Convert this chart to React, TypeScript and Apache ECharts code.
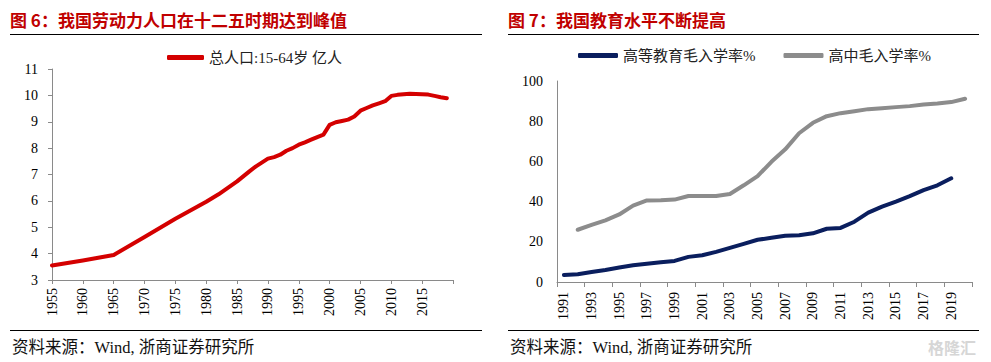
import React, { useEffect, useRef } from "react";
import * as echarts from "echarts";

// Left chart: working-age population (15-64), 100 million
const popYears = [1955, 1960, 1965, 1970, 1975, 1980, 1982, 1985, 1987, 1988, 1989, 1990, 1991, 1992, 1993, 1994, 1995, 1996, 1997, 1998, 1999, 2000, 2001, 2002, 2003, 2004, 2005, 2006, 2007, 2008, 2009, 2010, 2011, 2012, 2013, 2014, 2015, 2016, 2017, 2018, 2019];
const popValues = [3.55, 3.74, 3.95, 4.63, 5.32, 5.97, 6.25, 6.74, 7.12, 7.3, 7.45, 7.6, 7.66, 7.75, 7.9, 8.0, 8.13, 8.22, 8.32, 8.42, 8.51, 8.88, 8.98, 9.03, 9.08, 9.2, 9.42, 9.52, 9.62, 9.7, 9.78, 9.98, 10.02, 10.04, 10.06, 10.05, 10.04, 10.03, 9.98, 9.93, 9.89];
const popLegend = "总人口:15-64岁 亿人";

// Right chart: enrolment rates, %
const eduYears = ["1991", "1992", "1993", "1994", "1995", "1996", "1997", "1998", "1999", "2000", "2001", "2002", "2003", "2004", "2005", "2006", "2007", "2008", "2009", "2010", "2011", "2012", "2013", "2014", "2015", "2016", "2017", "2018", "2019", "2020"];
const higherEdu = [3.5, 3.9, 5.0, 6.0, 7.2, 8.3, 9.1, 9.8, 10.5, 12.5, 13.3, 15.0, 17.0, 19.0, 21.0, 22.0, 23.0, 23.3, 24.2, 26.5, 26.9, 30.0, 34.5, 37.5, 40.0, 42.7, 45.7, 48.1, 51.6, null];
const highSchool = [null, 26.0, 28.4, 30.7, 33.6, 38.0, 40.6, 40.7, 41.0, 42.8, 42.8, 42.8, 43.8, 48.1, 52.7, 59.8, 66.0, 74.0, 79.2, 82.5, 84.0, 85.0, 86.0, 86.5, 87.0, 87.5, 88.3, 88.8, 89.5, 91.2];
const higherName = "高等教育毛入学率%";
const highName = "高中毛入学率%";

const title1 = "图 6：我国劳动力人口在十二五时期达到峰值";
const title2 = "图 7：我国教育水平不断提高";
const source = "资料来源：Wind, 浙商证券研究所";

const SERIF = "'Liberation Serif', 'Times New Roman', 'Noto Sans CJK SC', serif";
const SANS = "'Noto Sans CJK SC', sans-serif";
const AXIS = "#8a8a8a";

export default function App() {
  const ref = useRef<HTMLDivElement>(null);
  useEffect(() => {
    if (!ref.current) return;
    const chart = echarts.init(ref.current, undefined, { renderer: "svg" });
    const rule = (x1: number, x2: number, y: number) => ({
      type: "line",
      shape: { x1, y1: y, x2, y2: y },
      style: { stroke: "#000", lineWidth: 1.2 },
      silent: true,
    });
    const txt = (x: number, y: number, text: string, style: any) => ({
      type: "text",
      x,
      y,
      style: { text, textVerticalAlign: "middle", verticalAlign: "middle", ...style },
      silent: true,
    });
    chart.setOption({
      animation: false,
      backgroundColor: "#fff",
      graphic: [
        txt(10, 19, title1, { fill: "#C00000", font: `bold 17px ${SANS}` }),
        txt(508, 19, title2, { fill: "#C00000", font: `bold 17px ${SANS}` }),
        rule(10, 482, 34.5),
        rule(508, 979, 34.5),
        rule(10, 482, 330.5),
        rule(508, 979, 330.5),
        txt(12, 347, source, { fill: "#111", font: `16.5px ${SERIF}` }),
        txt(510, 347, source, { fill: "#111", font: `16.5px ${SERIF}` }),
        txt(928, 347, "格隆汇", { fill: "#d6d6d6", font: `bold 16px ${SANS}` }),
      ],
      legend: [
        {
          data: [popLegend],
          left: 167,
          top: 50,
          padding: 0,
          icon: "roundRect",
          itemWidth: 37,
          itemHeight: 5,
          textStyle: { fontFamily: SERIF, fontSize: 15, color: "#222" },
        },
        {
          data: [higherName, highName],
          left: 578,
          top: 48,
          padding: 0,
          icon: "roundRect",
          itemWidth: 40,
          itemHeight: 5,
          itemGap: 28,
          textStyle: { fontFamily: SERIF, fontSize: 15, color: "#222" },
        },
      ],
      grid: [
        { left: 52, top: 69, right: 538, bottom: 82, containLabel: false },
        { left: 557, top: 81, right: 19, bottom: 80, containLabel: false },
      ],
      xAxis: [
        {
          type: "value",
          gridIndex: 0,
          min: 1955,
          max: 2020,
          interval: 5,
          splitLine: { show: false },
          axisLine: { show: true, lineStyle: { color: AXIS } },
          axisTick: { show: true, length: 4, lineStyle: { color: AXIS } },
          axisLabel: {
            rotate: 90,
            margin: 8,
            color: "#000",
            fontFamily: SERIF,
            fontSize: 14,
            formatter: (v: number) => (v === 2020 ? "" : String(v)),
          },
        },
        {
          type: "category",
          gridIndex: 1,
          data: eduYears,
          boundaryGap: true,
          axisLine: { show: true, lineStyle: { color: AXIS } },
          axisTick: { show: true, interval: 1, length: 5, lineStyle: { color: AXIS } },
          axisLabel: {
            interval: 1,
            rotate: 90,
            margin: 10,
            color: "#000",
            fontFamily: SERIF,
            fontSize: 14,
          },
        },
      ],
      yAxis: [
        {
          type: "value",
          gridIndex: 0,
          min: 3,
          max: 11,
          interval: 1,
          splitLine: { show: false },
          axisLine: { show: true, lineStyle: { color: AXIS } },
          axisTick: { show: true, length: 4, lineStyle: { color: AXIS } },
          axisLabel: { margin: 14, color: "#000", fontFamily: SERIF, fontSize: 14 },
        },
        {
          type: "value",
          gridIndex: 1,
          min: 0,
          max: 100,
          interval: 20,
          splitLine: { show: false },
          axisLine: { show: true, lineStyle: { color: AXIS } },
          axisTick: { show: false },
          axisLabel: { margin: 14, color: "#000", fontFamily: SERIF, fontSize: 14 },
        },
      ],
      series: [
        {
          name: popLegend,
          type: "line",
          xAxisIndex: 0,
          yAxisIndex: 0,
          data: popYears.map((y, i) => [y, popValues[i]]),
          showSymbol: false,
          symbol: "none",
          color: "#D40000",
          lineStyle: { width: 4, color: "#D40000", cap: "round", join: "round" },
        },
        {
          name: higherName,
          type: "line",
          xAxisIndex: 1,
          yAxisIndex: 1,
          data: higherEdu,
          showSymbol: false,
          symbol: "none",
          color: "#0A1E5E",
          lineStyle: { width: 4, color: "#0A1E5E", cap: "round", join: "round" },
        },
        {
          name: highName,
          type: "line",
          xAxisIndex: 1,
          yAxisIndex: 1,
          data: highSchool,
          showSymbol: false,
          symbol: "none",
          color: "#8C8C8C",
          lineStyle: { width: 4, color: "#8C8C8C", cap: "round", join: "round" },
        },
      ],
    });
    return () => chart.dispose();
  }, []);
  return (
    <div
      ref={ref}
      style={{ position: "absolute", left: 0, top: 0, width: 991, height: 362 }}
    />
  );
}
